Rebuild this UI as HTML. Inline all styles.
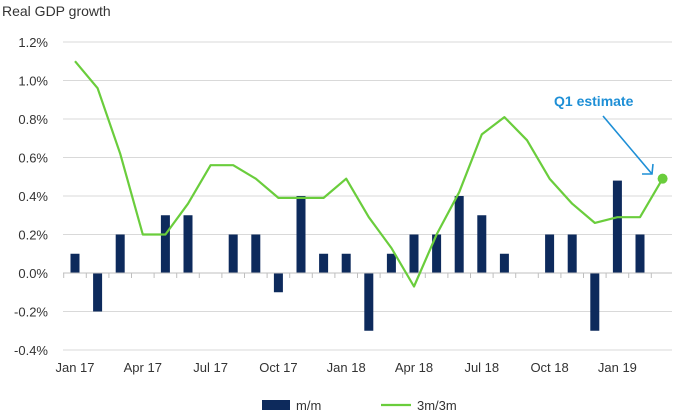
<!DOCTYPE html>
<html><head><meta charset="utf-8"><style>
html,body{margin:0;padding:0;background:#fff;}
svg{display:block;font-family:"Liberation Sans","DejaVu Sans",sans-serif;}
</style></head><body>
<svg id="c" width="696" height="420" viewBox="0 0 696 420" xmlns="http://www.w3.org/2000/svg">
<text x="2" y="16" font-size="14" fill="#333">Real GDP growth</text>
<g id="g"></g>
</svg>
<script>
const NS="http://www.w3.org/2000/svg";
const g=document.getElementById('g');
function el(t,a,txt){const e=document.createElementNS(NS,t);for(const k in a)e.setAttribute(k,a[k]);if(txt!==undefined)e.textContent=txt;g.appendChild(e);return e;}
const Y=v=>273-v*192.5, X=i=>75+i*22.6;
const ticks=[1.2,1.0,0.8,0.6,0.4,0.2,0.0,-0.2,-0.4];
ticks.forEach(v=>{
 if(v!==0) el('line',{x1:63,x2:672,y1:Y(v),y2:Y(v),stroke:'#d9d9d9','stroke-width':1});
 el('text',{x:48,y:Y(v)+5,'font-size':13,fill:'#333','text-anchor':'end'},(v<0?'-':'')+Math.abs(v).toFixed(1)+'%');
});
const bars=[0.1,-0.2,0.2,0,0.3,0.3,0,0.2,0.2,-0.1,0.4,0.1,0.1,-0.3,0.1,0.2,0.2,0.4,0.3,0.1,0,0.2,0.2,-0.3,0.48,0.2];
bars.forEach((v,i)=>{if(v===0)return;const y0=Y(0),y1=Y(v);el('rect',{x:X(i)-4.5,y:Math.min(y0,y1),width:9,height:Math.abs(y1-y0),fill:'#0d2a5c'});});
el('line',{x1:63,x2:672,y1:Y(0),y2:Y(0),stroke:'#bfbfbf','stroke-width':1});
for(let i=0;i<=27;i++){const x=X(i)-11.3;if(x<63||x>673)continue;el('line',{x1:x,x2:x,y1:Y(0),y2:Y(0)+5,stroke:'#bfbfbf','stroke-width':1});}
const line=[1.1,0.96,0.62,0.2,0.2,0.36,0.56,0.56,0.49,0.39,0.39,0.39,0.49,0.29,0.13,-0.07,0.2,0.42,0.72,0.81,0.69,0.49,0.36,0.26,0.29,0.29,0.49];
el('polyline',{points:line.map((v,i)=>X(i).toFixed(1)+','+Y(v).toFixed(1)).join(' '),fill:'none',stroke:'#6acd3c','stroke-width':2.2,'stroke-linejoin':'round'});
el('circle',{cx:X(26),cy:Y(0.49),r:5,fill:'#6acd3c'});
const labs=['Jan 17','Apr 17','Jul 17','Oct 17','Jan 18','Apr 18','Jul 18','Oct 18','Jan 19'];
labs.forEach((l,k)=>el('text',{x:X(k*3),y:372,'font-size':13,fill:'#333','text-anchor':'middle'},l));
el('text',{x:554,y:106,'font-size':14,'font-weight':'bold',fill:'#1e8fd6'},'Q1 estimate');
el('line',{x1:603,y1:116,x2:652,y2:174,stroke:'#1e8fd6','stroke-width':1.6});
el('polyline',{points:'642,174 652,174 653,164',fill:'none',stroke:'#1e8fd6','stroke-width':1.6});
el('rect',{x:262,y:400,width:28,height:10,fill:'#0d2a5c'});
el('text',{x:296,y:410,'font-size':13,fill:'#333'},'m/m');
el('line',{x1:381,x2:411,y1:405,y2:405,stroke:'#6acd3c','stroke-width':2.2});
el('text',{x:417,y:410,'font-size':13,fill:'#333'},'3m/3m');
</script>
</body></html>
